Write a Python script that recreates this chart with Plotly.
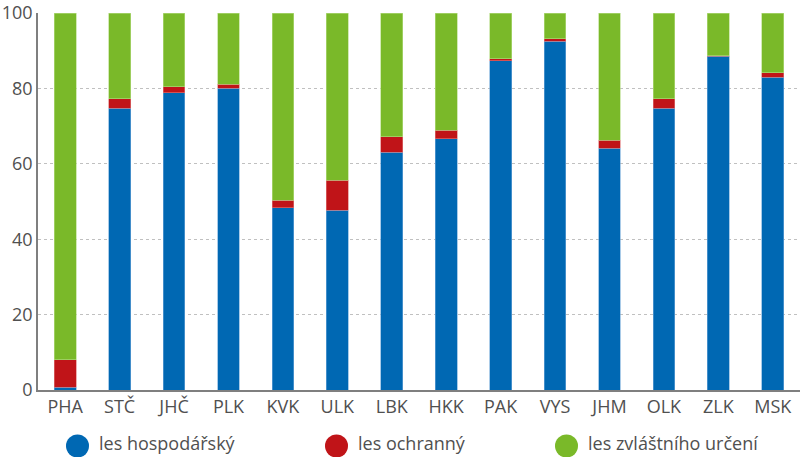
import plotly.graph_objects as go

regions = ["PHA", "STČ", "JHČ", "PLK", "KVK", "ULK", "LBK", "HKK", "PAK", "VYS", "JHM", "OLK", "ZLK", "MSK"]
hospodarsky = [0.7, 74.7, 78.9, 80.0, 48.3, 47.7, 63.0, 66.7, 87.3, 92.5, 64.1, 74.7, 88.5, 83.0]
ochranny = [7.3, 2.5, 1.5, 1.1, 2.0, 7.9, 4.2, 2.2, 0.5, 0.7, 2.1, 2.6, 0.1, 1.2]
zvlastni = [round(100 - a - b, 1) for a, b in zip(hospodarsky, ochranny)]
y_ticks = [0, 20, 40, 60, 80, 100]

names = ["les hospodářský", "les ochranný", "les zvláštního určení"]
colors = ["#0068b3", "#c01418", "#7ab929"]
edges = ["#6fa8d8", "#e07a7c", "#b5dc86"]
series = [hospodarsky, ochranny, zvlastni]

FONT = "Open Sans"
TXT = "#505050"
W, H = 800, 457
ML, MR, MT, MB = 38, 0, 13, 67
PW, PH = W - ML - MR, H - MT - MB

def px_x(p):
    return (p - ML) / PW

def px_y(p):
    return (H - MB - p) / PH

fig = go.Figure()
for name, vals, col, edge in zip(names, series, colors, edges):
    fig.add_trace(go.Bar(x=regions, y=vals, name=name,
                         marker=dict(color=col, line=dict(color=edge, width=0.6))))

# legend drawn as circles + text (reference uses large round markers)
legend_cx = [77.5, 336.5, 566.5]
legend_cy = 446
r = 11.5
for name, col, cx in zip(names, colors, legend_cx):
    fig.add_shape(type="circle", xref="paper", yref="paper",
                  xsizemode="pixel", ysizemode="pixel",
                  xanchor=px_x(cx), yanchor=px_y(legend_cy),
                  x0=-r, x1=r, y0=-r, y1=r,
                  fillcolor=col, line=dict(width=0))
    fig.add_annotation(text=name, xref="paper", yref="paper",
                       x=px_x(cx + 19), y=px_y(legend_cy - 3),
                       xanchor="left", yanchor="middle", showarrow=False,
                       font=dict(family=FONT, size=18, color=TXT))

fig.update_layout(
    width=W, height=H,
    margin=dict(l=ML, r=MR, t=MT, b=MB),
    barmode="stack", bargap=0.6,
    plot_bgcolor="white", paper_bgcolor="white",
    font=dict(family=FONT, size=18, color=TXT),
    showlegend=False,
)
fig.update_xaxes(showline=True, linecolor="#7f7f7f", linewidth=1.5, showgrid=False, automargin=False,
                 tickfont=dict(family=FONT, size=18, color=TXT), ticks="")
fig.update_yaxes(range=[0, 100], tickvals=y_ticks, showline=True, linecolor="#7f7f7f", linewidth=1.5,
                 showgrid=True, gridcolor="#c0c0c0", griddash="3px,3px", gridwidth=1, zeroline=False,
                 automargin=False, ticklabeloverflow="allow",
                 tickfont=dict(family=FONT, size=18, color=TXT), ticks="", ticklen=0)

fig.write_html("out.html", config={"displayModeBar": False},
               post_script="document.body.style.margin='0';")
